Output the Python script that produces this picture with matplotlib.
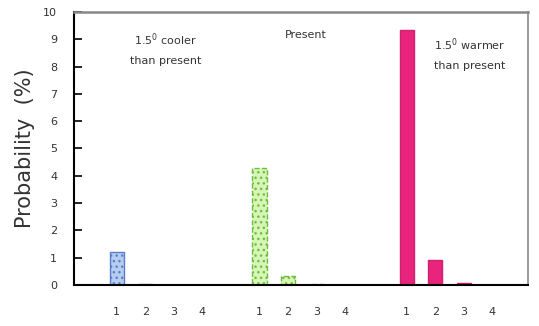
import matplotlib
matplotlib.use('Agg')
import matplotlib.pyplot as plt
import numpy as np

categories = ['1', '2', '3', '4']
cooler = [1.22, 0.03, 0.0, 0.0]
present = [4.3, 0.32, 0.03, 0.0]
warmer = [9.35, 0.93, 0.08, 0.0]
group_start = [0, 5, 10.15]

fig = plt.figure(figsize=(5.39, 3.26), dpi=100)
ax = fig.add_axes([0.137, 0.126, 0.843, 0.837])

idx = np.arange(len(categories))
w = 0.5
ax.bar(idx + group_start[0], cooler, width=w, color='#b4cdf0', edgecolor='#5a7fc8',
       hatch='...', linewidth=1.0)
ax.bar(idx + group_start[1], present, width=w, color='#d8f5b8', edgecolor='#6cbf3c',
       hatch='...', linewidth=1.0, linestyle='--')
ax.bar(idx + group_start[2], warmer, width=w, color='#e8247c', edgecolor='#d0206e',
       linewidth=1.0)

xt = np.concatenate([idx + g for g in group_start])
ax.set_xticks(xt)
ax.set_xticklabels(categories * 3, fontsize=8, color='#333333')
ax.tick_params(axis='x', length=0, pad=16)

ax.set_ylim(0, 10)
ax.set_xlim(-1.5, 14.4)
ax.set_yticks(range(0, 11))
ax.tick_params(axis='y', direction='in', length=6, width=1.2, labelsize=8,
               labelcolor='#333333', pad=12)

ax.spines['left'].set_linewidth(1.5)
ax.spines['bottom'].set_linewidth(1.5)
ax.spines['top'].set_color('#888888')
ax.spines['right'].set_color('#888888')
ax.spines['top'].set_linewidth(1.8)
ax.spines['right'].set_linewidth(1.2)

ax.set_ylabel('Probability  (%)', fontsize=15, color='#333333', labelpad=6)

ax.text(1.7, 9.3, '1.5$^0$ cooler\nthan present', fontsize=8, ha='center', va='top',
        color='#333333', linespacing=2.0)
ax.text(6.6, 9.35, 'Present', fontsize=8, ha='center', va='top', color='#333333')
ax.text(12.35, 9.1, '1.5$^0$ warmer\nthan present', fontsize=8, ha='center', va='top',
        color='#333333', linespacing=2.0)

fig.savefig('out.png', dpi=100)
